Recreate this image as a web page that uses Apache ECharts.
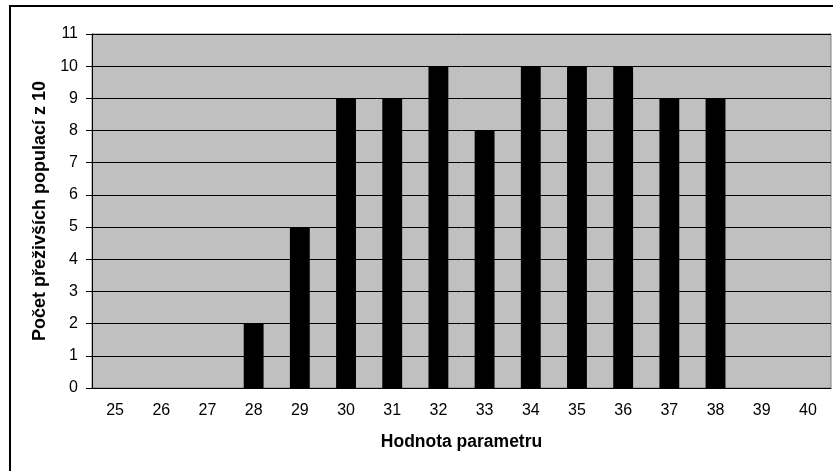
<!DOCTYPE html>
<html style="height: 100%">
<head>
<meta charset="utf-8">
<script src="https://cdn.jsdelivr.net/npm/echarts@6/dist/echarts.min.js"></script>
</head>
<body style="height: 100%; margin: 0; background: #fff">
<div id="container" style="width: 833px; height: 471px"></div>
<script type="text/javascript">
// hodnoty parametru a pocty prezivsich populaci
var categories = ['25', '26', '27', '28', '29', '30', '31', '32', '33', '34', '35', '36', '37', '38', '39', '40'];
var survivors = [0, 0, 0, 2, 5, 9, 9, 10, 8, 10, 10, 10, 9, 9, 0, 0];
var yTicks = [0, 11, 1];

var FONT = 'Liberation Sans, Arial, sans-serif';
var chart = echarts.init(document.getElementById('container'));

var option = {
    animation: false,
    backgroundColor: '#fff',
    graphic: [{
        type: 'rect',
        shape: { x: 10, y: 6, width: 900, height: 600 },
        style: { fill: 'none', stroke: '#000', lineWidth: 2 },
        silent: true
    }],
    grid: {
        left: 92, right: 2, top: 34, bottom: 83,
        show: true,
        backgroundColor: '#c0c0c0',
        borderColor: '#808080',
        borderWidth: 1
    },
    xAxis: {
        type: 'category',
        data: categories,
        name: 'Hodnota parametru',
        nameLocation: 'middle',
        nameGap: 45,
        nameTextStyle: { fontFamily: FONT, fontSize: 17.5, fontWeight: 'bold', color: '#000' },
        axisLine: { lineStyle: { color: '#000', width: 1 } },
        axisTick: { show: false },
        axisLabel: { fontFamily: FONT, fontSize: 16, color: '#000', margin: 15 }
    },
    yAxis: {
        type: 'value',
        min: yTicks[0],
        max: yTicks[1],
        interval: yTicks[2],
        name: 'Počet přeživších populací z 10',
        nameLocation: 'middle',
        nameGap: 41,
        nameTextStyle: { fontFamily: FONT, fontSize: 18, fontWeight: 'bold', color: '#000' },
        axisLine: { show: true, lineStyle: { color: '#000', width: 1 } },
        axisTick: { show: true, length: 6, lineStyle: { color: '#000' } },
        axisLabel: { fontFamily: FONT, fontSize: 16, color: '#000', margin: 14 },
        splitLine: { lineStyle: { color: '#000', width: 1 } }
    },
    series: [{
        type: 'bar',
        data: survivors,
        barWidth: '43%',
        itemStyle: { color: '#000' }
    }]
};

chart.setOption(option);
</script>
</body>
</html>
